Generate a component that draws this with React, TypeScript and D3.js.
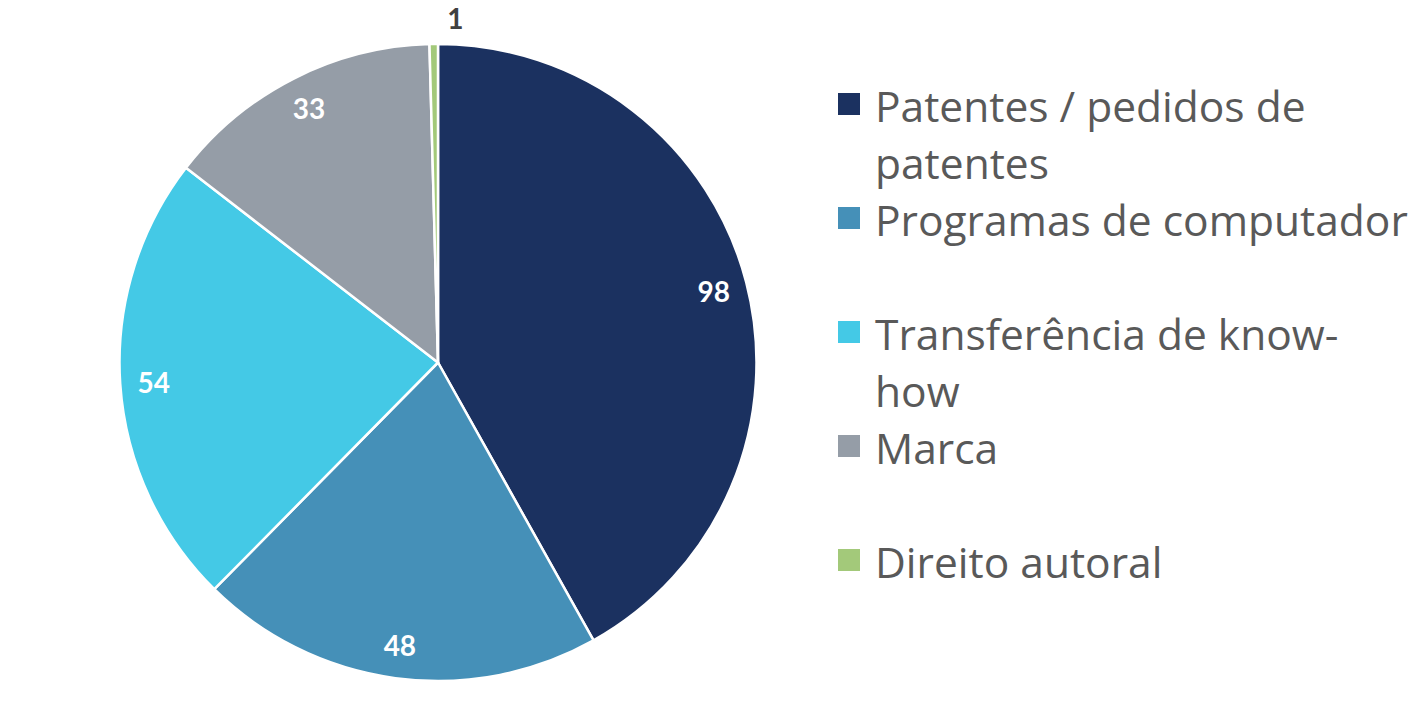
import React from "react";
import * as d3 from "d3";

const categories = [
  "Patentes / pedidos de patentes",
  "Programas de computador",
  "Transferência de know-how",
  "Marca",
  "Direito autoral",
];
const values = [98, 48, 54, 33, 1];
const colors = ["#1B3160", "#4590B8", "#44C9E6", "#959DA7", "#A3C97A"];
const legendLines = [
  ["Patentes / pedidos de", "patentes"],
  ["Programas de computador"],
  ["Transferência de know-", "how"],
  ["Marca"],
  ["Direito autoral"],
];
const legendSlots = [0, 2, 4, 6, 8];

const W = 1419;
const H = 711;
const cx = 438;
const cy = 362.5;
const R = 318.5;
const FONT = "Lato, 'Open Sans', sans-serif";
const LEGEND_FONT = "'Open Sans', Lato, sans-serif";

export default function App() {
  const pie = d3.pie<number>().sort(null).value((d) => d);
  const arcs = pie(values);
  const arc = d3.arc<d3.PieArcDatum<number>>().innerRadius(0).outerRadius(R);
  const labelArc = d3.arc<d3.PieArcDatum<number>>().innerRadius(285).outerRadius(285);
  const outerArc = d3.arc<d3.PieArcDatum<number>>().innerRadius(345).outerRadius(345);

  const lineH = 57;
  const firstBase = 122;
  const legX = 838;

  return (
    <svg width={W} height={H} style={{ position: "absolute", left: 0, top: 0 }}>
      <rect width={W} height={H} fill="#ffffff" />
      <g transform={`translate(${cx},${cy})`}>
        {arcs.map((a, i) => (
          <path key={i} d={arc(a) || ""} fill={colors[i]} stroke="#ffffff" strokeWidth={2.5} strokeLinejoin="round" />
        ))}
        {arcs.map((a, i) => {
          const small = a.data < 5;
          const [x, y] = small ? outerArc.centroid(a) : labelArc.centroid(a);
          return (
            <text
              key={i}
              x={small ? x + 22 : x}
              y={y}
              textAnchor="middle"
              dominantBaseline="central"
              fontFamily={FONT}
              fontWeight={700}
              fontSize={28}
              fill={small ? "#404040" : "#ffffff"}
            >
              {a.data}
            </text>
          );
        })}
      </g>
      {categories.map((c, i) => {
        const base = firstBase + legendSlots[i] * lineH;
        return (
          <g key={c}>
            <rect x={legX} y={base - 29} width={22} height={22} fill={colors[i]} />
            <text x={875} y={base} fontFamily={LEGEND_FONT} fontSize={42.5} fill="#595959">
              {legendLines[i].map((l, j) => (
                <tspan key={j} x={875} dy={j === 0 ? 0 : lineH}>
                  {l}
                </tspan>
              ))}
            </text>
          </g>
        );
      })}
    </svg>
  );
}
